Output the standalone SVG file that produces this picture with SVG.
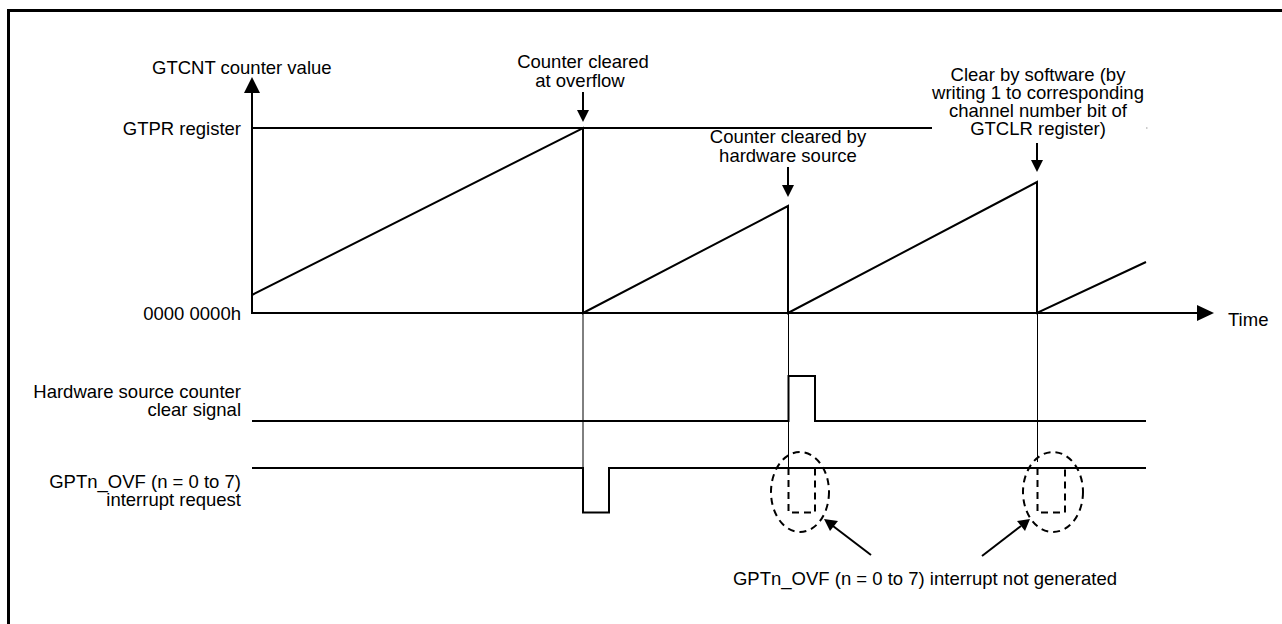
<svg xmlns="http://www.w3.org/2000/svg" width="1282" height="624" viewBox="0 0 1282 624">
<style>
text{font-family:"Liberation Sans",Arial,sans-serif;font-size:18.5px;fill:#000}
.r{text-anchor:end}
.m{text-anchor:middle}
.w{fill:none;stroke:#000;stroke-width:2}
.t{fill:none;stroke:#000;stroke-width:1}
.d{fill:none;stroke:#000;stroke-width:2;stroke-dasharray:7,5}
.h{fill:#000;stroke:none}
</style>
<rect x="0" y="0" width="1282" height="624" fill="#fff"/>
<path d="M8.5,624 V10.5 H1282" fill="none" stroke="#000" stroke-width="3"/>

<g id="labels">
<text x="152" y="74">GTCNT counter value</text>
<text class="r" x="241" y="135">GTPR register</text>
<text class="r" x="241" y="320">0000 0000h</text>
<text x="1228" y="326">Time</text>
<text class="r" x="241" y="398">Hardware source counter</text>
<text class="r" x="241" y="416">clear signal</text>
<text class="r" x="241" y="488">GPTn_OVF (n = 0 to 7)</text>
<text class="r" x="241" y="506">interrupt request</text>
</g>

<g id="axes">
<path class="w" d="M252,90 V313 H1200"/>
<polygon class="h" points="252,77 244,93 260,93"/>
<polygon class="h" points="1214,313 1197,305 1197,321"/>
<path class="w" d="M252,128 H932"/>
<path d="M1146,128 h1.5" stroke="#999" stroke-width="1"/>
</g>

<g id="counter">
<path class="w" d="M252,295 L583,128 V313 L788,206 V313 L1037,182 V313 L1146,262"/>
</g>

<g id="guides">
<path class="t" d="M583,313 V468"/>
<path class="t" d="M788.5,313 V468"/>
<path class="t" d="M1037.5,313 V462"/>
</g>

<g id="hw-signal">
<path class="w" d="M252,421 H788.5 V376 H815 V421 H1146"/>
</g>

<g id="ovf-signal">
<path class="w" d="M252,468 H583 V512.5 H609 V468 H1146"/>
<path class="d" d="M788.5,468 V512.5 H815 V468"/>
<path class="d" d="M1037.5,468 V512.5 H1065 V468"/>
<ellipse class="d" cx="800" cy="492" rx="29" ry="40"/>
<ellipse class="d" cx="1053" cy="492" rx="30" ry="40"/>
</g>

<g id="note-overflow">
<text class="m" x="583" y="68">Counter cleared</text>
<text class="m" x="580" y="87">at overflow</text>
<path class="w" d="M583,92 V112"/>
<polygon class="h" points="583,122 577,110 589,110"/>
</g>

<g id="note-hw">
<text class="m" x="788" y="143">Counter cleared by</text>
<text class="m" x="788" y="162">hardware source</text>
<path class="w" d="M788,167 V186"/>
<polygon class="h" points="788,197 782,185 794,185"/>
</g>

<g id="note-sw">
<text class="m" x="1038" y="81">Clear by software (by</text>
<text class="m" x="1038" y="99">writing 1 to corresponding</text>
<text class="m" x="1038" y="117">channel number bit of</text>
<text class="m" x="1038" y="135">GTCLR register)</text>
<path class="w" d="M1037,143 V161"/>
<polygon class="h" points="1037,172 1031,160 1043,160"/>
</g>

<g id="note-notgen">
<text class="m" x="925" y="585">GPTn_OVF (n = 0 to 7) interrupt not generated</text>
<path class="w" d="M871,555 L833,526"/>
<polygon class="h" points="824,519 838,521 830,531"/>
<path class="w" d="M982,556 L1021,526"/>
<polygon class="h" points="1030,519 1017,521 1025,531"/>
</g>
</svg>
